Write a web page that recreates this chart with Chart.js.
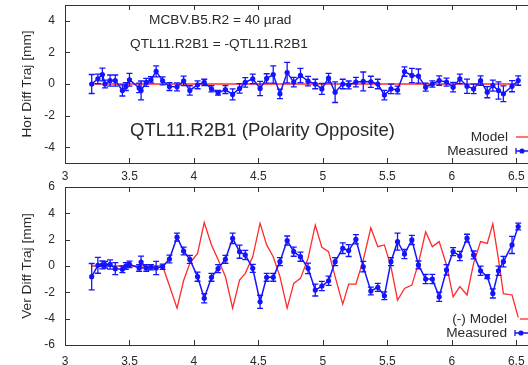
<!DOCTYPE html>
<html>
<head>
<meta charset="utf-8">
<script src="https://cdn.jsdelivr.net/npm/chart.js@4/dist/chart.umd.min.js"></script>
<style>
  html, body { margin: 0; padding: 0; background: #fff; overflow: hidden; }
  body { width: 528px; height: 365px; position: relative; }
  canvas { position: absolute; left: 0; }
  #hor { top: 0; }
  #ver { top: 180px; }
</style>
</head>
<body>
<canvas id="hor" width="560" height="185"></canvas>
<canvas id="ver" width="560" height="185"></canvas>
<script>
// BPM positions [km]
const sPos = [
  3.207, 3.255, 3.29, 3.31, 3.35, 3.39, 3.445, 3.472, 3.50, 3.575, 3.59, 3.63, 3.667, 3.707, 3.757,
  3.81, 3.869, 3.92, 3.968, 4.028, 4.08, 4.136, 4.187,
  4.244, 4.30, 4.354, 4.398, 4.456, 4.513, 4.564, 4.615,
  4.667, 4.723, 4.774, 4.826, 4.885, 4.941, 4.992, 5.044,
  5.095, 5.154, 5.2, 5.256, 5.313, 5.372, 5.426, 5.477,
  5.528, 5.579, 5.633, 5.69, 5.741, 5.797, 5.849, 5.902,
  5.959, 6.01, 6.062, 6.118, 6.169, 6.223, 6.275, 6.318,
  6.362, 6.40, 6.467, 6.515
];

// horizontal difference trajectory [mm]
const horMeas = [
  0.0, 0.33, 0.6, 0.0, 0.22, 0.22, -0.41, -0.16, 0.27, -0.25, -0.41, 0.1, 0.27, 0.8, 0.2,
  -0.16, -0.18, 0.2, -0.41, -0.05, 0.1, -0.3, -0.56,
  -0.35, -0.66, -0.28, 0.1, 0.33, -0.28, 0.35, 0.6,
  -0.62, 0.72, 0.12, 0.54, 0.18, 0.0, -0.31, 0.37,
  -0.52, 0.0, -0.06, 0.12, 0.16, 0.14, 0.0, -0.7,
  -0.31, -0.38, 0.79, 0.54, 0.5, -0.2, 0.0, 0.22,
  0.12, -0.2, 0.33, -0.14, -0.31, 0.22, -0.52, -0.1,
  -0.41, -0.62, -0.14, 0.22
];
const horErr = [
  0.6, 0.3, 0.4, 0.25, 0.35, 0.35, 0.35, 0.25, 0.4, 0.3, 0.6, 0.25, 0.2, 0.35, 0.25,
  0.25, 0.25, 0.3, 0.3, 0.25, 0.2, 0.2, 0.15,
  0.25, 0.35, 0.3, 0.3, 0.3, 0.45, 0.3, 0.55,
  0.3, 0.65, 0.3, 0.45, 0.3, 0.3, 0.35, 0.3,
  0.65, 0.3, 0.25, 0.3, 0.6, 0.35, 0.3, 0.3,
  0.3, 0.25, 0.3, 0.45, 0.45, 0.25, 0.2, 0.3,
  0.25, 0.3, 0.3, 0.45, 0.3, 0.3, 0.35, 0.35,
  0.55, 0.5, 0.35, 0.3
];
const horModel = [
  0, 0, 0, 0, 0, 0, 0, 0, 0, 0, 0, 0, 0, 0, 0,
  0, 0, 0, 0, 0, 0, 0, 0,
  0, 0, 0, 0, 0, 0, 0, 0,
  0, 0, 0, 0, 0, 0, 0, 0,
  0, 0, 0, 0, 0, 0, 0, 0,
  0, 0, 0, 0, 0, 0, 0, 0,
  0, 0, 0, 0, 0, 0, 0, 0,
  0, 0, 0, 0
];

// vertical difference trajectory [mm]
const verMeas = [
  -0.81, 0.05, 0.08, 0.1, 0.12, -0.2, -0.25, 0.0, 0.12, -0.15, 0.3, -0.15, -0.1, -0.15, -0.05,
  0.53, 2.19, 1.14, 0.5, -0.81, -2.45, -0.86, -0.2,
  0.51, 2.1, 1.09, 0.84, -0.18, -2.72, -0.86, -0.86,
  0.33, 1.93, 1.09, 0.71, -0.18, -1.83, -1.52, -1.12,
  0.33, 1.35, 1.17, 2.03, -0.05, -1.9, -1.62, -2.26,
  0.33, 1.85, 0.91, 1.98, 0.08, -0.99, -0.99, -2.34,
  -0.3, 1.09, 0.76, 2.11, 0.84, -0.36, -0.81, -2.08,
  -0.36, 0.33, 1.6, 3.0
];
const verErr = [
  1.0, 0.6, 0.3, 0.25, 0.35, 0.45, 0.25, 0.25, 0.25, 0.25, 0.45, 0.25, 0.2, 0.5, 0.2,
  0.3, 0.3, 0.3, 0.3, 0.35, 0.35, 0.3, 0.3,
  0.3, 0.4, 0.5, 0.35, 0.3, 0.5, 0.3, 0.3,
  0.3, 0.35, 0.35, 0.35, 0.4, 0.45, 0.35, 0.35,
  0.3, 0.4, 0.45, 0.35, 0.4, 0.3, 0.3, 0.3,
  0.3, 0.65, 0.35, 0.35, 0.3, 0.35, 0.35, 0.35,
  0.4, 0.3, 0.35, 0.3, 0.3, 0.35, 0.15, 0.35,
  0.35, 0.4, 0.65, 0.25
];
// model with flipped sign
const verModel = [
  0, 0, 0, 0, 0, 0, 0, 0, 0, 0, 0, 0, 0, 0, 0,
  -1.5, -3.2, -1.1, 0.2, 0.95, 3.3, 1.6, 0.5,
  -0.8, -3.2, -1.07, -0.56, 0.7, 3.25, 1.6, 0.7,
  -0.81, -3.2, -1.32, -0.94, 0.58, 3.1, 1.42, 1.09,
  -0.81, -2.9, -1.37, -1.37, 0.45, 2.9, 1.47, 1.6,
  -0.05, -2.6, -1.7, -1.45, 0.2, 2.6, 1.47, 1.85,
  0.08, -2.34, -1.57, -2.2, 0.2, 1.85, 1.72, 3.2,
  0.5, -2.1, -2.2, -3.9
];

const xTicks = [3, 3.5, 4, 4.5, 5, 5.5, 6, 6.5];
const horTicks = [-4, -2, 0, 2, 4];
const verTicks = [-6, -4, -2, 0, 2, 4, 6];

const INK = '#2a2a2a';
const BLUE = '#1414ff';
const RED = '#ff2b2b';
const FONT = 'Liberation Sans, Arial, sans-serif';

// box around the plot with gnuplot-style inward ticks
const frame = {
  id: 'frame',
  afterDraw(chart) {
    const { ctx, chartArea: a } = chart;
    const xs = chart.scales.x, ys = chart.scales.y;
    ctx.save();
    ctx.strokeStyle = '#333';
    ctx.lineWidth = 1;
    ctx.strokeRect(a.left + 0.5, a.top + 0.5, a.right - a.left, a.bottom - a.top);
    ctx.beginPath();
    xs.ticks.forEach(t => {
      const px = Math.round(xs.getPixelForValue(t.value)) + 0.5;
      ctx.moveTo(px, a.bottom); ctx.lineTo(px, a.bottom - 5);
      ctx.moveTo(px, a.top); ctx.lineTo(px, a.top + 5);
    });
    ys.ticks.forEach(t => {
      const py = Math.round(ys.getPixelForValue(t.value)) + 0.5;
      ctx.moveTo(a.left, py); ctx.lineTo(a.left + 5, py);
      ctx.moveTo(a.right, py); ctx.lineTo(a.right - 5, py);
    });
    ctx.stroke();
    ctx.restore();
  }
};

// vertical error bars on the measured points
const errorBars = {
  id: 'errorBars',
  afterDatasetsDraw(chart, args, opts) {
    const { ctx } = chart;
    const xs = chart.scales.x, ys = chart.scales.y;
    ctx.save();
    ctx.strokeStyle = BLUE;
    ctx.lineWidth = 1.3;
    ctx.beginPath();
    opts.values.forEach((v, i) => {
      const px = xs.getPixelForValue(sPos[i]);
      const hi = ys.getPixelForValue(v + opts.errors[i]);
      const lo = ys.getPixelForValue(v - opts.errors[i]);
      ctx.moveTo(px, hi); ctx.lineTo(px, lo);
      ctx.moveTo(px - 3, hi); ctx.lineTo(px + 3, hi);
      ctx.moveTo(px - 3, lo); ctx.lineTo(px + 3, lo);
    });
    ctx.stroke();
    ctx.restore();
  }
};

// free text labels and the key
const notes = {
  id: 'notes',
  afterDraw(chart, args, opts) {
    const { ctx } = chart;
    ctx.save();
    ctx.fillStyle = INK;
    ctx.textBaseline = 'middle';
    opts.texts.forEach(t => {
      ctx.font = t.size + 'px ' + FONT;
      ctx.textAlign = 'left';
      ctx.fillText(t.text, t.x, t.y);
    });
    const k = opts.key;
    const [model, meas] = chart.data.datasets;
    ctx.font = '13.7px ' + FONT;
    ctx.textAlign = 'right';
    ctx.fillText(model.label, k.x, k.y);
    ctx.fillText(meas.label, k.x, k.y + 14);
    ctx.lineWidth = 1.3;
    ctx.strokeStyle = RED;
    ctx.beginPath();
    ctx.moveTo(k.x + k.gap, k.y); ctx.lineTo(k.x + 40, k.y);
    ctx.stroke();
    const my = k.y + 14, sx = k.x + 8;
    ctx.strokeStyle = BLUE;
    ctx.fillStyle = BLUE;
    ctx.beginPath();
    ctx.moveTo(sx, my); ctx.lineTo(sx + 40, my);
    ctx.moveTo(sx, my - 3); ctx.lineTo(sx, my + 3);
    ctx.stroke();
    ctx.beginPath();
    ctx.arc(sx + 6, my, 2.6, 0, Math.PI * 2);
    ctx.fill();
    ctx.restore();
  }
};

function points(ys) {
  return sPos.map((s, i) => ({ x: s, y: ys[i] }));
}

function makePanel(id, cfg) {
  new Chart(document.getElementById(id), {
    type: 'scatter',
    data: {
      datasets: [
        { label: cfg.modelLabel, data: points(cfg.model), showLine: true,
          borderColor: RED, borderWidth: 1.3, pointRadius: 0, order: 2 },
        { label: 'Measured', data: points(cfg.meas), showLine: true,
          borderColor: BLUE, backgroundColor: BLUE, borderWidth: 1.5,
          pointRadius: 2.6, pointBorderWidth: 0, order: 1 }
      ]
    },
    options: {
      responsive: false,
      animation: false,
      layout: { padding: { top: cfg.padTop, left: 0, right: 0, bottom: 0 } },
      plugins: {
        legend: { display: false },
        tooltip: { enabled: false },
        errorBars: { values: cfg.meas, errors: cfg.err },
        notes: { texts: cfg.texts, key: cfg.key }
      },
      scales: {
        x: {
          type: 'linear', min: 3, max: 6.808,
          afterBuildTicks: s => { s.ticks = xTicks.map(v => ({ value: v })); },
          afterFit: s => { s.height = cfg.xHeight; s.paddingLeft = 0; s.paddingRight = 0; },
          grid: { display: false, drawTicks: false },
          border: { display: false },
          ticks: { color: INK, font: { family: FONT, size: 12 }, padding: cfg.xPad,
                   maxRotation: 0, autoSkip: false, callback: v => String(v) }
        },
        y: {
          min: cfg.yMin, max: cfg.yMax,
          afterBuildTicks: s => { s.ticks = cfg.yTicks.map(v => ({ value: v })); },
          afterFit: s => { s.width = 65; s.paddingTop = 0; s.paddingBottom = 0; },
          grid: { display: false, drawTicks: false },
          border: { display: false },
          ticks: { color: INK, font: { family: FONT, size: 12 }, padding: 10,
                   callback: v => String(v) },
          title: { display: true, text: cfg.yTitle, color: INK,
                   font: { family: FONT, size: 13.7 }, padding: { top: 19, bottom: 0 } }
        }
      }
    },
    plugins: [errorBars, frame, notes]
  });
}

makePanel('hor', {
  modelLabel: 'Model', model: horModel, meas: horMeas, err: horErr,
  yMin: -5, yMax: 5, yTicks: horTicks, yTitle: 'Hor Diff Traj [mm]',
  padTop: 5, xHeight: 22, xPad: 6,
  texts: [
    { text: 'MCBV.B5.R2 = 40 \u00b5rad', x: 149, y: 20, size: 13.7 },
    { text: 'QTL11.R2B1 = -QTL11.R2B1', x: 130, y: 44, size: 13.7 },
    { text: 'QTL11.R2B1 (Polarity Opposite)', x: 130, y: 131, size: 18.5 }
  ],
  key: { x: 508, y: 137, gap: 8 }
});

makePanel('ver', {
  modelLabel: '(-) Model', model: verModel, meas: verMeas, err: verErr,
  yMin: -6, yMax: 6, yTicks: verTicks, yTitle: 'Ver Diff Traj [mm]',
  padTop: 7, xHeight: 20, xPad: 9,
  texts: [],
  key: { x: 507, y: 139, gap: 13 }
});
</script>
</body>
</html>
